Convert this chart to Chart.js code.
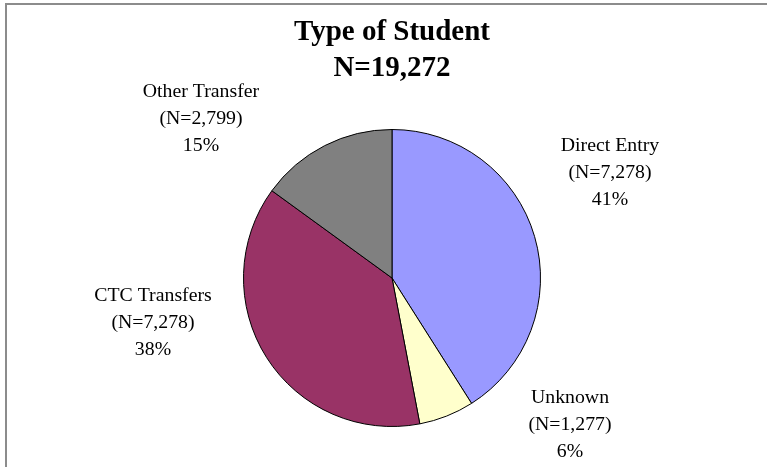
<!DOCTYPE html>
<html>
<head>
<meta charset="utf-8">
<title>Type of Student</title>
<script src="https://cdn.jsdelivr.net/npm/chart.js@4"></script>
<style>
  html, body { margin: 0; padding: 0; background: #fff; }
  canvas { display: block; }
</style>
</head>
<body>
<canvas id="myChart" width="767" height="467"></canvas>
<script>
// data
var categories = ["Direct Entry", "Unknown", "CTC Transfers", "Other Transfer"];
var counts = [7278, 1277, 7278, 2799];
var percents = [41, 6, 38, 15];
var sliceColors = ["#9999ff", "#ffffcc", "#993366", "#808080"];
var titleLines = ["Type of Student", "N=19,272"];

// where each label's middle line sits, relative to the pie centre
var labelOffsets = [[218, -100], [178, 152], [-239, 50], [-191, -154]];

// gray frame on the top and left edges
var framePlugin = {
	id: "frame",
	beforeDraw: function(chart) {
		var ctx = chart.ctx;
		ctx.save();
		ctx.strokeStyle = "#8c8c8c";
		ctx.lineWidth = 2;
		ctx.beginPath();
		ctx.moveTo(6, 467);
		ctx.lineTo(6, 4);
		ctx.lineTo(767, 4);
		ctx.stroke();
		ctx.restore();
	}
};

// three line labels outside each slice
var labelPlugin = {
	id: "sliceLabels",
	afterDatasetsDraw: function(chart) {
		var ctx = chart.ctx;
		var arcs = chart.getDatasetMeta(0).data;
		ctx.save();
		ctx.fillStyle = "#000";
		ctx.font = "18px 'Liberation Serif', 'Times New Roman', serif";
		ctx.textAlign = "center";
		ctx.textBaseline = "alphabetic";
		arcs.forEach(function(arc, i) {
			var lines = [
				categories[i],
				"(N=" + counts[i].toLocaleString("en-US") + ")",
				percents[i] + "%"
			];
			var x = arc.x + labelOffsets[i][0];
			var y = arc.y + labelOffsets[i][1];
			for (var k = 0; k < lines.length; k++) {
				ctx.save();
				ctx.translate(x, y + (k - 1) * 27);
				ctx.scale(1.1, 1);
				ctx.fillText(lines[k], 0, 0);
				ctx.restore();
			}
		});
		ctx.restore();
	}
};

new Chart("myChart", {
	type: "pie",
	data: {
		labels: categories,
		datasets: [{
			data: percents,
			backgroundColor: sliceColors,
			borderColor: "#000",
			borderWidth: 1
		}]
	},
	options: {
		responsive: false,
		animation: false,
		events: [],
		layout: {
			padding: { left: 17, right: 0, top: 0, bottom: 40 }
		},
		plugins: {
			legend: { display: false },
			tooltip: { enabled: false },
			title: {
				display: true,
				text: titleLines,
				color: "#000",
				font: {
					family: "'Liberation Serif', 'Times New Roman', serif",
					size: 29,
					weight: "bold",
					lineHeight: 1.25
				},
				padding: { top: 14, bottom: 42.5 }
			}
		}
	},
	plugins: [framePlugin, labelPlugin]
});
</script>
</body>
</html>
